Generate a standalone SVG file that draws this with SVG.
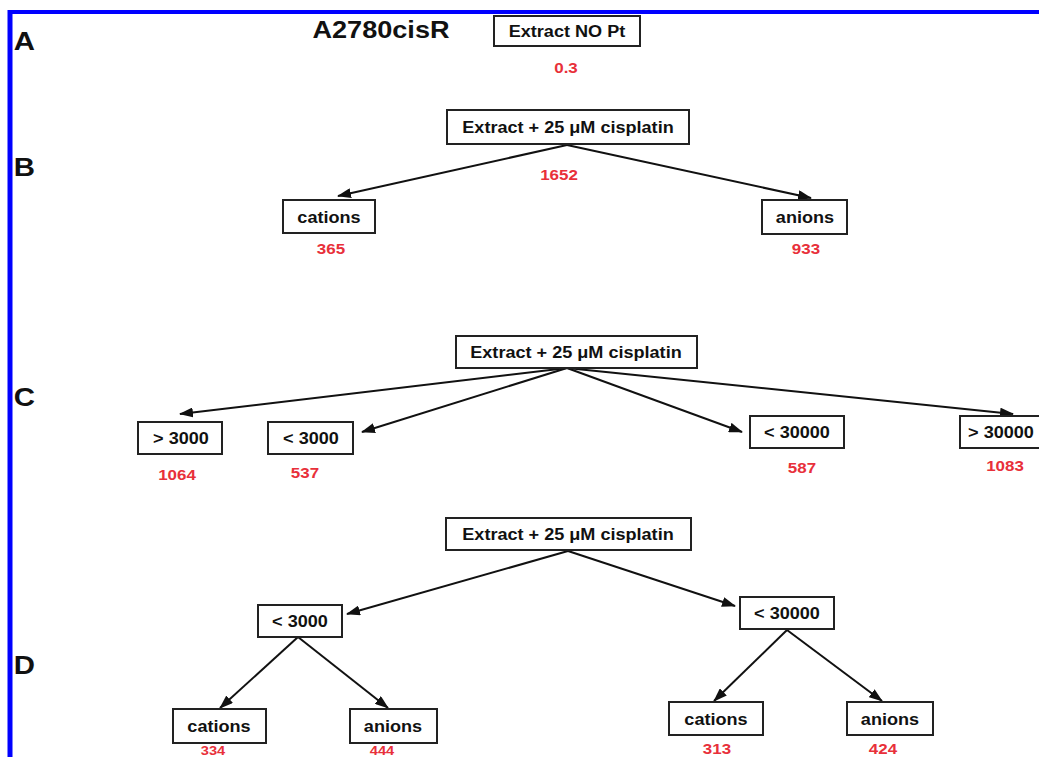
<svg xmlns="http://www.w3.org/2000/svg" width="1039" height="757" viewBox="0 0 1039 757">
<style>
.box{fill:#fff;stroke:#222;stroke-width:2}
.t,.n,.L,.h{font-family:"Liberation Sans",Arial,sans-serif;font-weight:bold;transform-box:fill-box;transform-origin:center;transform:scaleX(1.13)}
.t{font-size:16px;fill:#111;text-anchor:middle}
.n{font-size:15px;fill:#e8303a;text-anchor:middle}
.s{font-size:13px}
.L{font-size:26px;fill:#111}
.h{font-size:24px;fill:#111;text-anchor:middle}
.c{stroke:#111;stroke-width:2;fill:none;marker-end:url(#ah)}
</style>
<defs>
<marker id="ah" markerWidth="14" markerHeight="10" refX="13" refY="5" orient="auto" markerUnits="userSpaceOnUse">
<path d="M0,0 L14,5 L0,10 Z" fill="#111"/>
</marker>
</defs>
<rect width="1039" height="757" fill="#fff"/>
<g id="border">
<line x1="10" y1="12" x2="1039" y2="12" stroke="#0000ff" stroke-width="4"/>
<line x1="10" y1="10" x2="10" y2="757" stroke="#0000ff" stroke-width="5"/>
</g>
<g id="labels">
<text class="L" x="15" y="50">A</text>
<text class="L" x="15" y="176">B</text>
<text class="L" x="15" y="406">C</text>
<text class="L" x="15" y="674">D</text>
<text class="h" x="381" y="38">A2780cisR</text>
</g>
<g id="connectors">
<line class="c" x1="567" y1="145" x2="338" y2="196"/>
<line class="c" x1="567" y1="145" x2="811" y2="198"/>
<line class="c" x1="567" y1="368" x2="180" y2="414"/>
<line class="c" x1="567" y1="368" x2="362" y2="432"/>
<line class="c" x1="567" y1="368" x2="742" y2="432"/>
<line class="c" x1="567" y1="368" x2="1013" y2="414"/>
<line class="c" x1="568" y1="551" x2="347" y2="614"/>
<line class="c" x1="568" y1="551" x2="735" y2="606"/>
<line class="c" x1="298" y1="637" x2="220" y2="708"/>
<line class="c" x1="298" y1="637" x2="388" y2="708"/>
<line class="c" x1="787" y1="630" x2="714" y2="701"/>
<line class="c" x1="787" y1="630" x2="882" y2="701"/>
</g>
<g id="nA">
<rect class="box" x="494" y="16" width="146" height="30"/>
<text class="t" x="567" y="37">Extract NO Pt</text>
<text class="n" x="566" y="73">0.3</text>
</g>
<g id="nB">
<rect class="box" x="447" y="110" width="242" height="34"/>
<text class="t" x="568" y="133">Extract + 25 μM cisplatin</text>
<text class="n" x="559" y="180">1652</text>
</g>
<g id="nB1">
<rect class="box" x="283" y="200" width="92" height="33"/>
<text class="t" x="329" y="223">cations</text>
<text class="n" x="331" y="254">365</text>
</g>
<g id="nB2">
<rect class="box" x="762" y="200" width="85" height="34"/>
<text class="t" x="805" y="223">anions</text>
<text class="n" x="806" y="254">933</text>
</g>
<g id="nC">
<rect class="box" x="456" y="336" width="241" height="32"/>
<text class="t" x="576" y="358">Extract + 25 μM cisplatin</text>
</g>
<g id="nC1">
<rect class="box" x="138" y="422" width="84" height="32"/>
<text class="t" x="181" y="444">&gt; 3000</text>
<text class="n" x="177" y="480">1064</text>
</g>
<g id="nC2">
<rect class="box" x="268" y="422" width="85" height="32"/>
<text class="t" x="311" y="444">&lt; 3000</text>
<text class="n" x="305" y="478">537</text>
</g>
<g id="nC3">
<rect class="box" x="750" y="416" width="94" height="32"/>
<text class="t" x="797" y="438">&lt; 30000</text>
<text class="n" x="802" y="473">587</text>
</g>
<g id="nC4">
<rect class="box" x="960" y="416" width="90" height="32"/>
<text class="t" x="1001" y="438">&gt; 30000</text>
<text class="n" x="1005" y="471">1083</text>
</g>
<g id="nD">
<rect class="box" x="446" y="518" width="245" height="32"/>
<text class="t" x="568" y="540">Extract + 25 μM cisplatin</text>
</g>
<g id="nD1">
<rect class="box" x="258" y="605" width="84" height="32"/>
<text class="t" x="300" y="627">&lt; 3000</text>
</g>
<g id="nD2">
<rect class="box" x="740" y="597" width="94" height="32"/>
<text class="t" x="787" y="619">&lt; 30000</text>
</g>
<g id="nD3">
<rect class="box" x="173" y="709" width="93" height="34"/>
<text class="t" x="219" y="732">cations</text>
<text class="n s" x="213" y="755">334</text>
</g>
<g id="nD4">
<rect class="box" x="350" y="709" width="87" height="34"/>
<text class="t" x="393" y="732">anions</text>
<text class="n s" x="382" y="755">444</text>
</g>
<g id="nD5">
<rect class="box" x="669" y="702" width="94" height="33"/>
<text class="t" x="716" y="725">cations</text>
<text class="n" x="717" y="754">313</text>
</g>
<g id="nD6">
<rect class="box" x="847" y="702" width="86" height="33"/>
<text class="t" x="890" y="725">anions</text>
<text class="n" x="883" y="754">424</text>
</g>
</svg>
